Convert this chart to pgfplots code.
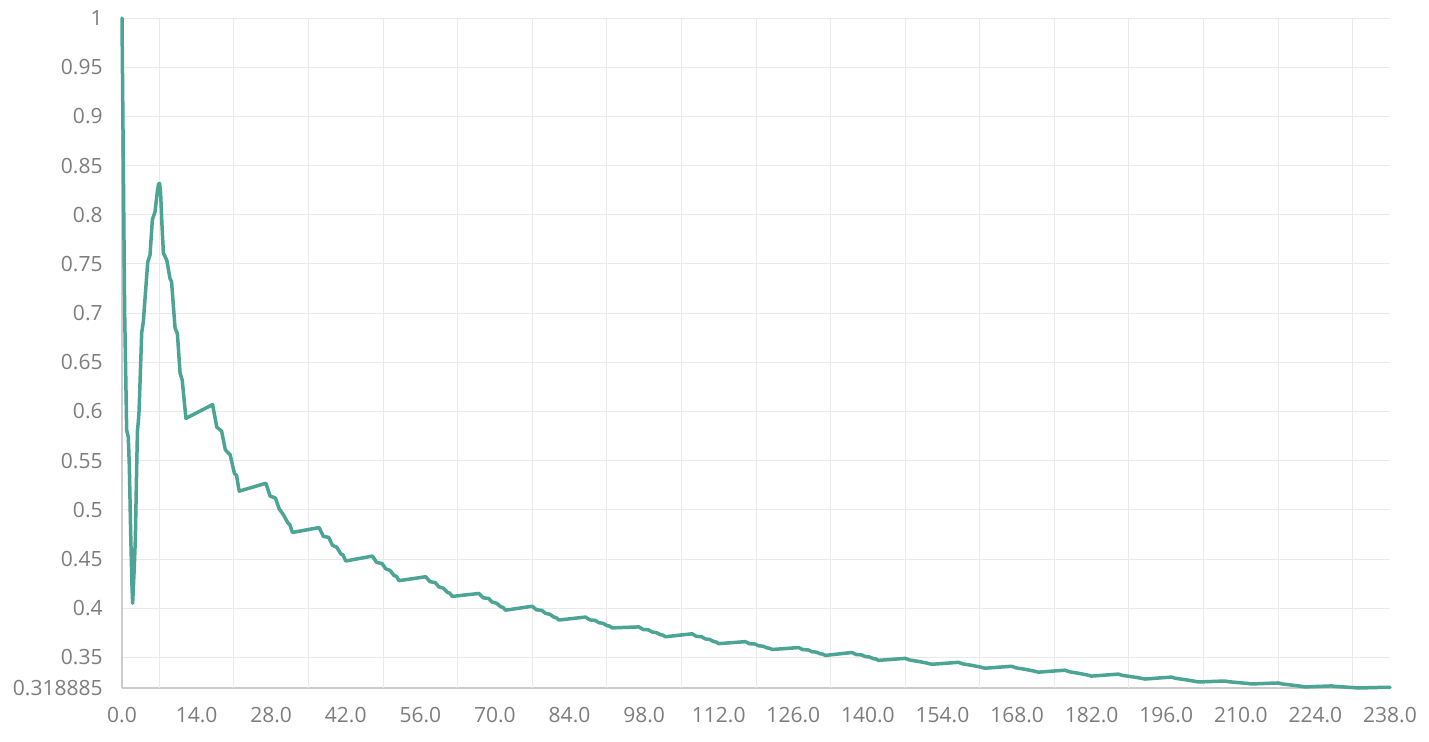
\documentclass[border=0pt]{standalone}
\usepackage{pgfplots}
\pgfplotsset{compat=1.18}
\usepackage{fontspec}
\setmainfont{Open Sans}
\definecolor{linec}{RGB}{76,164,148}
\definecolor{gridc}{RGB}{234,234,234}
\definecolor{axisc}{RGB}{204,204,204}
\definecolor{labc}{RGB}{125,125,125}
\begin{document}
\begin{tikzpicture}
\begin{axis}[
  scale only axis,
  width=634pt, height=335pt,
  xmin=0, xmax=238, ymin=0.318885, ymax=1,
  clip=false,
  axis x line*=bottom, axis y line*=left,
  axis line style={draw=axisc, line width=0.6pt, -},
  xtick={0,14,...,238},
  xticklabels={0.0,14.0,28.0,42.0,56.0,70.0,84.0,98.0,112.0,126.0,140.0,154.0,168.0,182.0,196.0,210.0,224.0,238.0},
  extra x ticks={7,21,35,49,63,77,91,105,119,133,147,161,175,189,203,217,231},
  extra x tick labels={},
  extra x tick style={grid=major, major grid style={draw=gridc, line width=0.5pt}},
  ytick={0.318885,0.35,0.4,0.45,0.5,0.55,0.6,0.65,0.7,0.75,0.8,0.85,0.9,0.95,1},
  yticklabels={0.318885,0.35,0.4,0.45,0.5,0.55,0.6,0.65,0.7,0.75,0.8,0.85,0.9,0.95,1},
  ymajorgrids=true,
  major grid style={draw=gridc, line width=0.5pt},
  major tick length=0pt,
  tick style={draw=none},
  ticklabel style={font=\fontsize{10.5}{12}\selectfont, text=labc},
  xticklabel style={anchor=north, inner sep=0pt, yshift=-9.6pt},
  yticklabel style={anchor=east, inner sep=0pt, xshift=-9.5pt},
]
\addplot[linec, line width=1.75pt, line join=round, line cap=round] coordinates {
(0,1.0) (0.5,0.70) (0.88,0.581) (1.18,0.574) (1.38,0.544) (1.63,0.476) (1.88,0.422) (2.0,0.405)
(2.26,0.436) (2.5,0.469) (2.76,0.544) (2.9,0.580) (3.07,0.590) (3.2,0.600) (3.7,0.680) (4.0,0.691)
(4.83,0.752) (5.26,0.759) (5.7,0.795) (6.2,0.803) (6.6,0.822) (6.85,0.831) (7.05,0.832) (7.25,0.822) (7.5,0.790)
(7.77,0.761) (8.4,0.754) (9.02,0.735) (9.3,0.732) (9.96,0.685) (10.4,0.679) (10.9,0.639) (11.3,0.632)
(12,0.593)
(17,0.607) (17.8,0.584) (18.7,0.580) (19.4,0.561) (20.3,0.556) (21.1,0.537) (21.5,0.535) (22,0.519)
(27,0.527) (27.8,0.514) (28.8,0.512) (29.5,0.501) (30.3,0.495) (31.1,0.487) (31.5,0.485) (32,0.477)
(37,0.482) (37.8,0.473) (38.8,0.472) (39.5,0.464) (40.3,0.462) (41.1,0.455) (41.5,0.454) (42,0.448)
(47,0.453) (47.8,0.4465) (48.8,0.4455) (49.5,0.440) (50.3,0.4385) (51.1,0.433) (51.5,0.4325) (52,0.428)
(57,0.432) (57.8,0.427) (58.8,0.426) (59.5,0.4216) (60.3,0.4204) (61.1,0.416) (61.5,0.4154) (62,0.412)
(67,0.415) (67.8,0.4106) (68.8,0.4099) (69.5,0.4062) (70.3,0.4051) (71.1,0.4014) (71.5,0.4009) (72,0.398)
(77,0.402) (77.8,0.3984) (78.8,0.3978) (79.5,0.3947) (80.3,0.3939) (81.1,0.3908) (81.5,0.3904) (82,0.388)
(87,0.391) (87.8,0.3881) (88.8,0.3877) (89.5,0.3853) (90.3,0.3846) (91.1,0.3822) (91.5,0.3819) (92,0.380)
(97,0.381) (97.8,0.3784) (98.8,0.3780) (99.5,0.3758) (100.3,0.3752) (101.1,0.3730) (101.5,0.3727) (102,0.371)
(107,0.374) (107.8,0.3714) (108.8,0.3710) (109.5,0.3688) (110.3,0.3682) (111.1,0.3660) (111.5,0.3657) (112,0.364)
(117,0.366) (117.8,0.3639) (118.8,0.3636) (119.5,0.3618) (120.3,0.3614) (121.1,0.3596) (121.5,0.3594) (122,0.358)
(127,0.360) (127.8,0.3579) (128.8,0.3576) (129.5,0.3558) (130.3,0.3554) (131.1,0.3536) (131.5,0.3534) (132,0.352)
(137,0.355) (137.8,0.3529) (138.8,0.3526) (139.5,0.3508) (140.3,0.3504) (141.1,0.3486) (141.5,0.3484) (142,0.347)
(147,0.349) (147.8,0.3474) (149.5,0.3459) (151.1,0.3442) (152,0.343)
(157,0.345) (157.8,0.3434) (159.5,0.3419) (161.1,0.3402) (162,0.339)
(167,0.341) (167.8,0.3394) (169.5,0.3379) (171.1,0.3362) (172,0.335)
(177,0.337) (177.8,0.3354) (179.5,0.3339) (181.1,0.3322) (182,0.331)
(187,0.333) (187.8,0.3317) (189.5,0.3304) (191.1,0.3290) (192,0.328)
(197,0.330) (197.8,0.3287) (199.5,0.3274) (201.1,0.3260) (202,0.325)
(207,0.326) (207.8,0.3252) (209.5,0.3244) (211.1,0.3236) (212,0.323)
(217,0.324) (217.8,0.3230) (219.5,0.3219) (221.1,0.3208) (222,0.320)
(227,0.321) (227.8,0.3205) (229.5,0.3199) (231.1,0.3193) (232,0.318885)
(237,0.3196) (238,0.3194)
};
\end{axis}
\pgfresetboundingbox
\path (-61pt,-26.5pt) rectangle (653.5pt,344pt);
\end{tikzpicture}
\end{document}
